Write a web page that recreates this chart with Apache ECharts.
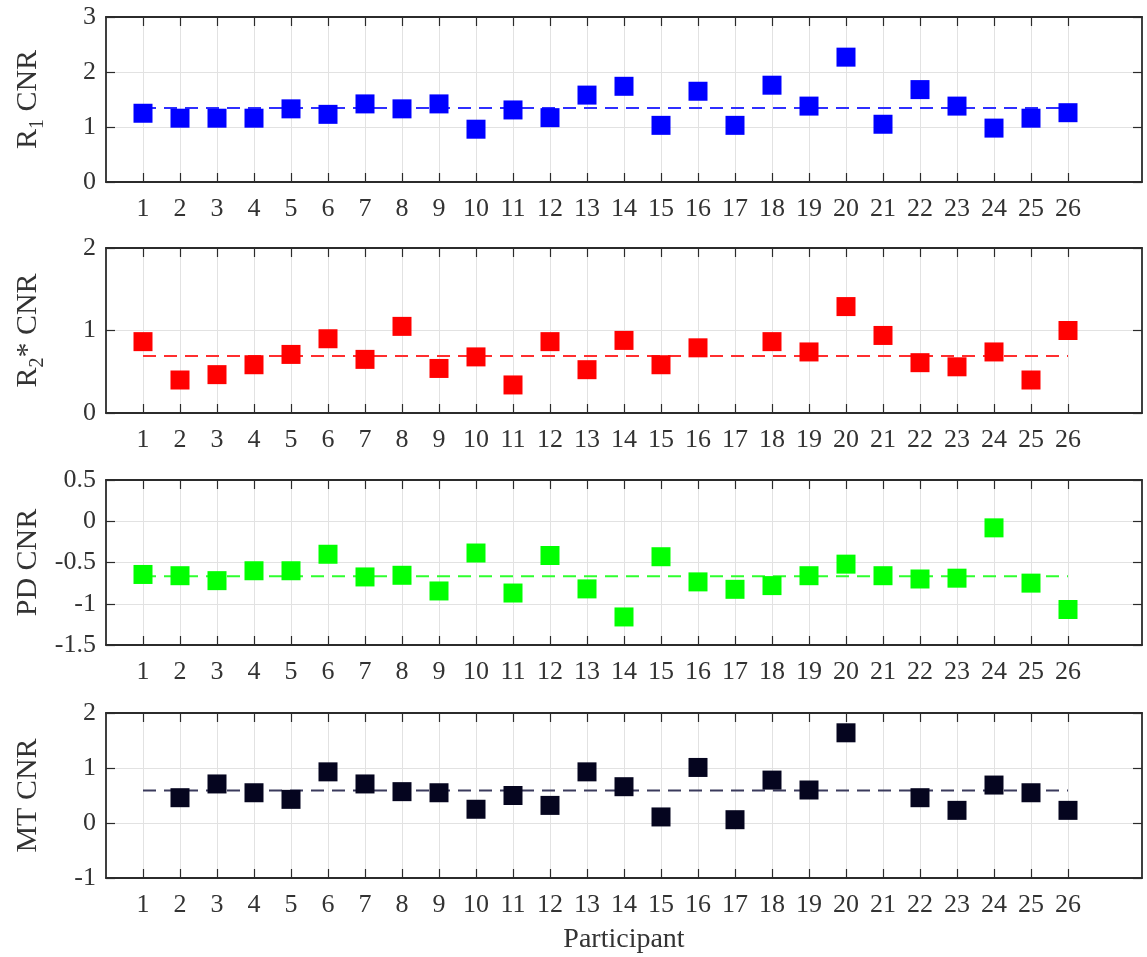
<!DOCTYPE html>
<html>
<head>
<meta charset="utf-8">
<script src="https://cdn.jsdelivr.net/npm/echarts@6/dist/echarts.min.js"></script>
<style>
  html, body { margin: 0; padding: 0; background: #fff; }
  #chart { width: 1147px; height: 957px; }
</style>
</head>
<body>
<div id="chart"></div>
<script>
// Participant numbers (x categories and tick labels)
const participants = [1,2,3,4,5,6,7,8,9,10,11,12,13,14,15,16,17,18,19,20,21,22,23,24,25,26];

// Contrast-to-noise ratio per participant, one array per contrast
const r1Cnr  = [1.25,1.16,1.16,1.16,1.33,1.23,1.42,1.33,1.42,0.96,1.31,1.17,1.58,1.74,1.03,1.65,1.03,1.76,1.38,2.27,1.05,1.68,1.38,0.98,1.16,1.26];
const r2sCnr = [0.865,0.40,0.465,0.585,0.71,0.90,0.65,1.05,0.54,0.68,0.34,0.865,0.525,0.88,0.585,0.79,null,0.865,0.74,1.29,0.94,0.61,0.56,0.74,0.40,1.00];
const pdCnr  = [-0.645,-0.66,-0.72,-0.60,-0.60,-0.40,-0.675,-0.655,-0.845,-0.385,-0.87,-0.415,-0.82,-1.16,-0.43,-0.735,-0.825,-0.78,-0.66,-0.52,-0.66,-0.70,-0.69,-0.08,-0.75,-1.07];
const mtCnr  = [null,0.46,0.71,0.55,0.43,0.93,0.71,0.57,0.55,0.25,0.50,0.32,0.93,0.66,0.11,1.01,0.06,0.78,0.60,1.64,null,0.46,0.23,0.69,0.55,0.23];

// Group mean of each contrast (dashed reference line)
const meanCnr = [1.345, 0.69, -0.668, 0.59];

// Y-axis ranges and tick steps per panel
const yMins = [0, 0, -1.5, -1];
const yMaxs = [3, 2, 0.5, 2];
const ySteps = [1, 1, 0.5, 1];

const panelValues = [r1Cnr, r2sCnr, pdCnr, mtCnr];
const panelColors = ['#0000ff', '#ff0000', '#00ff00', '#05051f'];
const lineColors  = ['#2f2fff', '#ff2f2f', '#2fff2f', '#3a3a5c'];
const panelNames  = ['{a|R}{s|1}{a| CNR}', '{a|R}{s|2}{a|* CNR}', '{a|PD CNR}', '{a|MT CNR}'];

const FONT = 'Liberation Serif';
const TEXT = '#333333';
const AXIS = '#2b2b2b';
const GRID = '#e2e2e2';

const gridTops = [17, 248, 480, 713];
const grids = [], xAxes = [], yAxes = [], series = [];

panelValues.forEach((vals, i) => {
  grids.push({ left: 106, right: 5, top: gridTops[i], height: 165 });

  const xBase = {
    type: 'value', gridIndex: i, min: 0, max: 28, interval: 1,
    axisLine: { show: true, onZero: false, lineStyle: { color: AXIS, width: 1.8 } },
    axisTick: { show: true, inside: true, length: 9, customValues: participants, lineStyle: { color: AXIS, width: 1.2 } }
  };
  xAxes.push(Object.assign({}, xBase, {
    position: 'bottom',
    axisLabel: { show: true, customValues: participants, fontFamily: FONT, fontSize: 26, color: TEXT, margin: 14 },
    splitLine: { show: true, lineStyle: { color: GRID, width: 1 } },
    name: i === 3 ? 'Participant' : '',
    nameLocation: 'middle', nameGap: 48,
    nameTextStyle: { fontFamily: FONT, fontSize: 28, color: TEXT }
  }));
  xAxes.push(Object.assign({}, xBase, {
    position: 'top',
    axisLabel: { show: false },
    splitLine: { show: false }
  }));

  const yBase = {
    type: 'value', gridIndex: i, min: yMins[i], max: yMaxs[i], interval: ySteps[i],
    axisLine: { show: true, onZero: false, lineStyle: { color: AXIS, width: 1.8 } },
    axisTick: { show: true, inside: true, length: 9, lineStyle: { color: AXIS, width: 1.2 } }
  };
  yAxes.push(Object.assign({}, yBase, {
    position: 'left',
    axisLabel: { show: true, fontFamily: FONT, fontSize: 26, color: TEXT, margin: 10 },
    splitLine: { show: true, lineStyle: { color: GRID, width: 1 } },
    name: panelNames[i], nameLocation: 'middle', nameRotate: 90, nameGap: 58,
    nameTextStyle: {
      rich: {
        a: { fontFamily: FONT, fontSize: 30, color: TEXT, lineHeight: 40 },
        s: { fontFamily: FONT, fontSize: 20, color: TEXT, lineHeight: 20, verticalAlign: 'bottom' }
      }
    }
  }));
  yAxes.push(Object.assign({}, yBase, {
    position: 'right',
    axisLabel: { show: false },
    splitLine: { show: false }
  }));

  // dashed group-mean line across participants 1..26
  series.push({
    type: 'line', xAxisIndex: 2 * i, yAxisIndex: 2 * i,
    data: [[participants[0], meanCnr[i]], [participants[participants.length - 1], meanCnr[i]]],
    symbol: 'none', silent: true, z: 2,
    lineStyle: { color: lineColors[i], width: 2, type: [13, 8] }
  });

  // one square marker per participant with a value
  series.push({
    type: 'scatter', xAxisIndex: 2 * i, yAxisIndex: 2 * i,
    data: participants.map((p, k) => [p, vals[k]]).filter(d => d[1] !== null),
    symbol: 'rect', symbolSize: 19, z: 3,
    itemStyle: { color: panelColors[i], opacity: 1 }
  });
});

const chart = echarts.init(document.getElementById('chart'), null, { renderer: 'canvas' });
chart.setOption({
  animation: false,
  backgroundColor: '#ffffff',
  grid: grids,
  xAxis: xAxes,
  yAxis: yAxes,
  series: series
});
</script>
</body>
</html>
